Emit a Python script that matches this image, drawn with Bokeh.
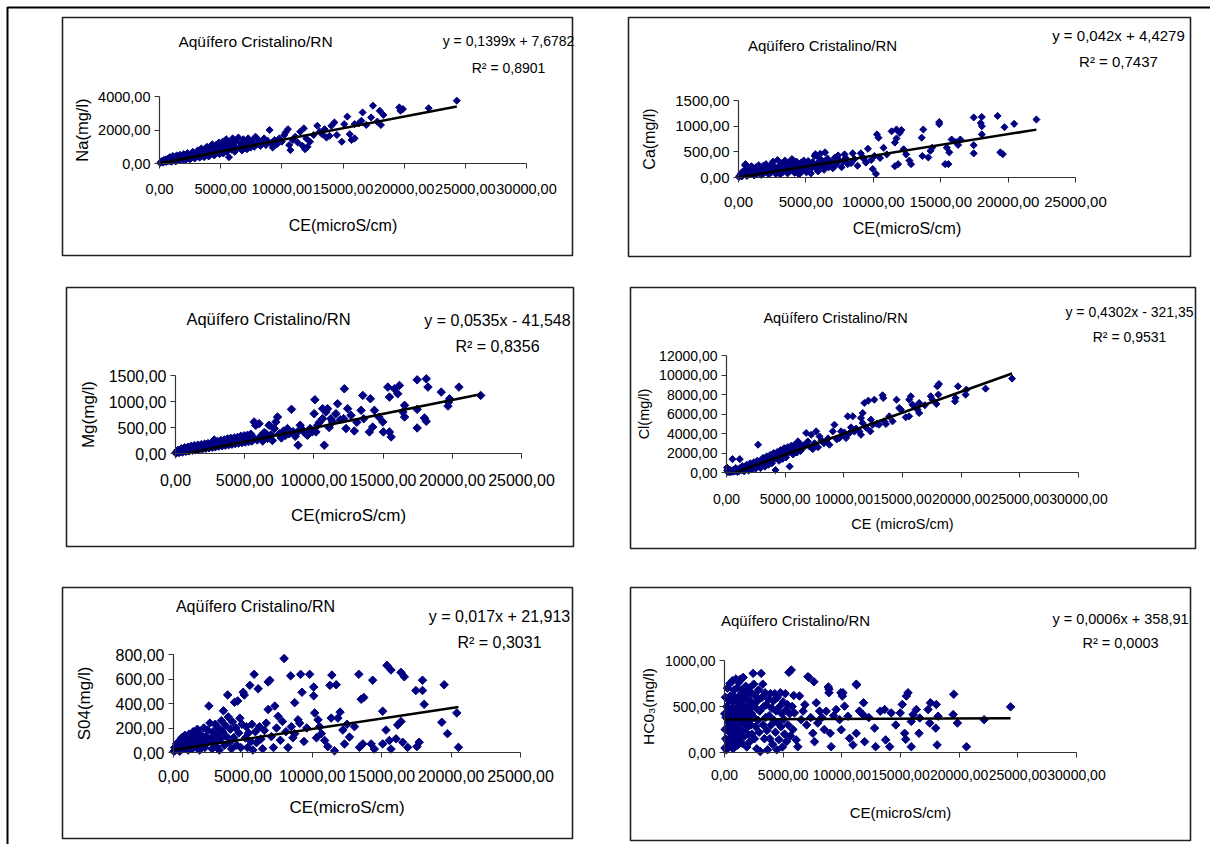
import math
from bokeh.plotting import figure
from bokeh.models import (Range1d, LinearAxis, FixedTicker, CustomJSTickFormatter,
                          BoxAnnotation, Label)
from bokeh.embed import file_html
from bokeh.resources import INLINE

# ---------------- data (CE in microS/cm, ions in mg/l) ----------------
na_pts = [(50,30),(120,80),(200,150),(300,60),(350,200),(420,120),(500,250),(560,90),(640,180),(700,300),
(780,140),(850,380),(900,220),(980,100),(1050,300),(1100,450),(1180,200),(1250,350),(1320,120),(1400,480),
(1450,260),(1520,380),(1600,180),(1680,520),(1750,300),(1820,420),(1900,220),(1980,560),(2050,350),(2120,200),
(2200,480),(2280,620),(2350,300),(2420,420),(2500,250),(2580,560),(2650,380),(2720,700),(2800,460),(2880,300),
(2950,600),(3050,420),(3120,780),(3200,520),(3280,350),(3350,640),(3420,900),(3500,480),(3580,700),(3650,380),
(3720,820),(3800,560),(3880,1000),(3950,650),(4020,420),(4100,760),(4180,950),(4250,560),(4320,1150),(4400,700),
(4480,480),(4550,880),(4620,1100),(4700,640),(4780,820),(4850,1250),(4920,560),(5000,980),(5080,760),(5150,1300),
(5220,600),(5300,1050),(5380,820),(5450,1450),(5520,700),(5600,1150),(5680,380),(5750,950),(5820,1300),(5900,820),
(5980,1500),(6050,1100),(6150,700),(6250,1350),(6350,900),(6450,1550),(6550,1000),(6650,1200),(6750,780),(6850,1450),
(6950,1050),(7050,1300),(7150,850),(7250,1500),(7350,1100),(7450,950),(7550,1350),(7650,1200),(7750,1000),(7850,1600),
(7950,1150),(8100,1400),(8250,1050),(8400,1250),(8550,1500),(8700,1100),(8850,1350),(9000,2000),(9100,1200),(9250,950),
(9400,1400),(9600,1150),(9800,1500),(10000,1300),(10200,1700),(10300,1850),(10500,2050),(10600,1100),(10700,800),(10900,1400),
(11100,1600),(11300,1250),(11500,1900),(11700,1050),(11800,2100),(11900,850),(12000,1500),(12100,1000),(12300,1300),(12600,1700),
(12900,2250),(13100,1900),(13300,1750),(13500,2050),(13650,1550),(13900,1650),(14050,2250),(14300,2450),(14500,1700),(14900,1300),
(15100,2350),(15350,2800),(15550,1750),(15700,1400),(15950,2350),(15950,1500),(16300,2400),(16500,2550),(16600,3050),(16900,2300),
(17300,2750),(17450,3450),(17800,2500),(18000,3150),(18100,2300),(18300,2900),(19600,3350),(19700,3150),(19900,3250),(22000,3300),
(24300,3750)]

ca_pts = [(30,10),(100,40),(180,80),(250,20),(330,120),(400,60),(480,240),(520,260),(560,150),(620,30),
(700,100),(760,180),(830,60),(900,140),(960,220),(1030,90),(1100,170),(1160,40),(1230,130),(1300,200),
(1370,70),(1440,160),(1500,240),(1570,110),(1640,190),(1700,50),(1770,140),(1840,230),(1900,90),(1970,170),
(2040,260),(2100,120),(2170,200),(2240,60),(2300,150),(2370,240),(2440,100),(2500,180),(2570,310),(2640,130),
(2700,210),(2770,70),(2840,170),(2900,340),(2970,120),(3040,220),(3100,60),(3170,170),(3240,280),(3300,110),
(3370,200),(3440,330),(3500,150),(3570,240),(3640,80),(3700,190),(3770,300),(3840,130),(3900,230),(3970,360),
(4040,160),(4100,260),(4170,90),(4240,200),(4300,310),(4370,140),(4440,240),(4500,60),(4570,180),(4640,290),
(4700,120),(4770,220),(4840,330),(4900,160),(4970,260),(5040,100),(5100,200),(5170,320),(5240,150),(5300,250),
(5370,80),(5440,190),(5500,300),(5580,230),(5650,420),(5700,455),(5760,170),(5830,270),(5900,120),(5970,380),
(6060,460),(6150,210),(6250,320),(6350,150),(6420,490),(6500,260),(6600,370),(6700,200),(6800,300),(6900,300),
(7000,180),(7150,390),(7250,250),(7390,430),(7500,330),(7650,200),(7750,310),(7870,450),(7950,380),(8100,260),
(8350,280),(8470,470),(8600,360),(8830,230),(9070,470),(9200,400),(9310,360),(9450,290),(9600,560),(9840,340),
(9960,165),(10080,420),(10200,70),(10270,840),(10390,775),(10500,380),(10760,580),(11000,450),(11360,900),(11600,680),
(11600,220),(11720,935),(11720,760),(11840,260),(11960,870),(12080,925),(12250,550),(12440,450),(12680,330),(12800,260),
(13590,775),(13640,420),(13710,935),(14080,390),(14240,520),(14360,580),(14890,1080),(14890,1040),(15330,260),(15450,580),
(15570,260),(15640,490),(15810,740),(16120,690),(16290,635),(16460,740),(17450,1170),(17450,630),(17450,470),(17970,1060),
(18050,1180),(18050,1000),(18050,840),(19220,1200),(19420,490),(19610,455),(19730,980),(20450,1045),(22100,1130)]

mg_pts = [(30,10),(100,30),(180,60),(260,20),(340,50),(420,90),(500,30),(580,70),(660,110),(740,40),
(820,80),(900,120),(980,50),(1060,100),(1140,140),(1220,60),(1300,110),(1380,150),(1460,70),(1540,120),
(1620,160),(1700,80),(1780,130),(1860,170),(1940,90),(2020,140),(2100,180),(2180,100),(2260,150),(2340,190),
(2420,110),(2500,160),(2580,200),(2660,120),(2740,170),(2800,260),(2880,130),(2960,190),(3040,230),(3120,140),
(3200,200),(3280,250),(3360,150),(3440,210),(3520,260),(3600,160),(3680,220),(3760,280),(3840,170),(3920,230),
(4000,290),(4080,180),(4160,240),(4240,300),(4320,190),(4400,250),(4480,310),(4560,200),(4640,260),(4720,330),
(4800,210),(4880,270),(4960,340),(5040,220),(5120,280),(5200,350),(5280,230),(5360,300),(5440,370),(5520,240),
(5600,310),(5680,606),(5800,543),(5900,260),(6040,574),(6150,330),(6300,240),(6400,400),(6520,383),(6650,290),
(6760,543),(6900,360),(7000,250),(7130,479),(7250,606),(7370,702),(7500,380),(7650,300),(7800,430),(7950,350),
(8090,479),(8200,380),(8380,849),(8500,420),(8650,330),(8820,415),(8860,160),(9010,543),(9200,450),(9400,380),
(9540,351),(9730,479),(9900,420),(10020,766),(10070,1034),(10150,415),(10270,543),(10400,600),(10630,862),(10630,670),
(10750,160),(10870,798),(10990,862),(11100,500),(11230,670),(11350,606),(11590,766),(11710,957),(11900,650),(12150,670),
(12200,1245),(12320,479),(12440,862),(12680,734),(12920,434),(13100,600),(13410,830),(13530,1117),(13600,670),(14010,415),
(14080,1053),(14250,511),(14370,830),(14700,700),(14980,606),(15020,415),(15340,1277),(15460,1085),(15460,415),(15580,319),
(15820,1245),(16060,1149),(16180,1309),(16430,798),(16550,926),(16550,702),(17460,1417),(17460,849),(17460,491),(17990,683),
(18120,1436),(18120,619),(18240,1277),(19200,1181),(19690,913),(19730,990),(19800,1053),(20480,1277),(22050,1117)]

cl_pts = [(40,500),(60,200),(100,50),(150,350),(200,100),(260,20),(320,250),(380,60),(450,150),(510,1370),
(560,80),(620,300),(700,120),(780,450),(850,200),(920,60),(1000,350),(1080,150),(1130,1370),(1200,500),
(1280,250),(1350,650),(1420,380),(1500,120),(1580,600),(1650,300),(1720,800),(1800,450),(1880,200),(1950,700),
(2020,950),(2100,500),(2180,300),(2250,850),(2330,1050),(2400,600),(2480,400),(2550,900),(2620,1200),(2690,2850),
(2750,700),(2820,1100),(2900,450),(2970,1300),(3050,850),(3120,1500),(3200,1000),(3280,600),(3350,1350),(3420,1650),
(3500,1100),(3580,800),(3650,1500),(3720,1800),(3800,1250),(3880,950),(3950,1650),(4020,2000),(4100,1400),(4180,250),
(4250,1800),(4320,2100),(4400,1550),(4480,1200),(4550,1950),(4620,2300),(4700,1700),(4780,1400),(4850,2150),(4920,2500),
(5000,1900),(5080,1550),(5150,2300),(5220,2600),(5300,2050),(5380,620),(5450,2450),(5520,2750),(5600,2200),(5680,1850),
(5750,2600),(5800,2850),(5900,2350),(6000,2050),(6090,3190),(6200,2500),(6300,2200),(6400,2800),(6510,2500),(6650,2850),
(6790,4050),(6930,3190),(7050,2700),(7220,3870),(7350,2400),(7500,3000),(7640,4220),(7800,2600),(7930,3700),(8100,3300),
(8300,3000),(8490,3190),(8650,3500),(8770,2850),(9060,4220),(9200,4900),(9400,3400),(9620,3530),(9760,4220),(9910,3870),
(10050,4100),(10190,3530),(10330,5760),(10450,4000),(10610,4630),(10760,5760),(10900,4200),(11050,4500),(11320,4220),(11460,3870),
(11460,5590),(11610,6100),(11610,5070),(11750,7130),(11900,4600),(12090,7370),(12260,4220),(12310,5420),(12450,4900),(12600,7470),
(12800,5000),(13000,4900),(13300,7920),(13360,7640),(13440,5250),(13590,4970),(13870,5760),(14150,5250),(14490,7470),(14720,6620),
(14860,6450),(15280,5660),(15570,5760),(15570,7470),(15710,7820),(15850,6960),(16100,6700),(16280,6450),(16420,7130),(16420,6100),
(16900,6900),(17410,7820),(17550,7470),(17890,7030),(17970,8840),(18060,7990),(18110,9080),(19470,7300),(19530,7640),(19730,8840),
(20380,7990),(20440,8500),(22080,8600),(24340,9630)]

so4_pts = [(30,10),(80,40),(150,20),(220,70),(300,30),(380,90),(450,10),(520,60),(600,120),(680,30),
(750,80),(820,140),(900,40),(980,100),(1050,20),(1120,150),(1200,60),(1280,110),(1350,30),(1420,170),
(1500,80),(1580,130),(1650,40),(1720,190),(1800,90),(1880,20),(1950,150),(2020,60),(2100,110),(2180,200),
(2250,40),(2330,130),(2400,80),(2480,180),(2550,380),(2620,240),(2700,120),(2780,30),(2850,170),(2920,90),
(3000,230),(3080,50),(3150,140),(3230,200),(3300,20),(3380,110),(3450,260),(3530,170),(3600,340),(3680,60),
(3750,220),(3830,130),(3900,470),(3950,290),(4030,80),(4100,190),(4180,30),(4250,250),(4330,120),(4400,410),
(4480,200),(4550,60),(4620,421),(4700,160),(4780,280),(4850,40),(4930,230),(5020,492),(5100,469),(5180,120),
(5250,210),(5330,40),(5400,160),(5500,548),(5580,90),(5650,230),(5720,20),(5810,638),(5900,170),(5980,80),
(6100,520),(6200,210),(6300,110),(6420,30),(6550,180),(6680,240),(6820,576),(6820,351),(6940,590),(7050,130),
(7200,40),(7300,379),(7420,200),(7540,295),(7700,100),(7850,253),(7970,767),(8100,170),(8250,40),(8440,626),
(8490,211),(8600,120),(8730,407),(8730,154),(8970,267),(9090,239),(9160,638),(9260,492),(9400,90),(9600,200),
(9810,638),(10100,534),(10100,463),(10170,323),(10300,120),(10410,267),(10530,211),(10650,154),(10890,98),(11120,48),
(11270,548),(11360,281),(11410,632),(11600,14),(11720,553),(11840,281),(12000,330),(12200,183),(12320,70),(12500,230),
(12680,126),(13040,211),(13350,638),(13400,42),(13520,435),(13640,70),(13710,449),(14240,70),(14350,590),(14470,28),
(15070,337),(15070,70),(15310,183),(15380,711),(15550,98),(15670,674),(15670,28),(16030,112),(16150,225),(16390,654),
(16390,253),(16510,84),(16630,618),(16870,42),(17460,506),(17540,48),(17700,84),(17940,506),(17940,590),(18060,393),
(19330,247),(19500,553),(19740,154),(20410,323),(20530,42)]

hco3_pts = [(20,420),(40,50),(60,250),(80,600),(100,150),(130,380),(160,30),(190,500),(220,270),(250,700),
(280,120),(310,450),(340,330),(370,60),(400,560),(430,220),(460,750),(490,400),(520,100),(550,620),
(580,300),(610,480),(640,180),(670,780),(700,350),(730,40),(760,550),(790,250),(820,680),(850,420),
(880,130),(910,600),(940,300),(970,800),(1000,480),(1030,200),(1060,700),(1090,380),(1120,80),(1150,560),
(1180,280),(1210,760),(1240,450),(1270,150),(1300,620),(1340,350),(1370,798),(1400,500),(1430,230),(1460,680),
(1490,400),(1520,100),(1550,560),(1590,816),(1620,320),(1650,650),(1680,460),(1710,180),(1740,600),(1780,380),
(1810,720),(1840,260),(1870,500),(1900,60),(1940,640),(1970,420),(2000,200),(2040,580),(2070,340),(2100,700),
(2140,470),(2170,120),(2200,560),(2240,300),(2270,650),(2300,420),(2340,200),(2380,520),(2440,860),(2490,743),
(2520,380),(2560,150),(2600,620),(2650,280),(2700,480),(2750,40),(2800,560),(2850,350),(2900,680),(2950,220),
(3000,450),(3050,10),(3130,860),(3200,600),(3260,743),(3300,300),(3350,500),(3400,150),(3450,650),(3500,380),
(3560,520),(3620,240),(3680,30),(3740,580),(3800,400),(3860,150),(3920,640),(3980,300),(4040,480),(4100,90),
(4160,560),(4220,350),(4280,640),(4340,220),(4400,450),(4460,30),(4520,600),(4580,320),(4640,140),(4700,500),
(4760,650),(4820,280),(4880,420),(4940,60),(5000,550),(5060,360),(5120,200),(5180,640),(5240,460),(5300,120),
(5360,520),(5420,300),(5490,871),(5550,420),(5620,180),(5690,897),(5760,500),(5830,250),(5900,620),(5960,430),
(6110,137),(6250,63),(6390,614),(6530,357),(6700,450),(6850,520),(7000,300),(7110,824),(7180,816),(7350,380),
(7530,209),(7620,769),(7670,118),(7820,540),(7950,320),(8100,450),(8300,380),(8500,250),(8670,449),(8850,713),
(8900,688),(8900,650),(9010,209),(9090,63),(9300,400),(9520,467),(9810,357),(9920,650),(9950,247),(10050,614),
(10090,650),(10230,504),(10520,394),(10660,154),(10950,82),(11230,743),(11230,209),(11260,735),(11500,450),(11800,412),
(11850,540),(11940,118),(12300,380),(12790,265),(12880,63),(13280,449),(13650,467),(13730,137),(14080,63),(14210,430),
(14600,300),(14980,430),(15150,522),(15350,209),(15440,143),(15500,614),(15640,650),(15920,338),(15920,63),(16070,412),
(16350,467),(16580,209),(16640,375),(17350,467),(17490,320),(17550,540),(18000,265),(18050,522),(18120,82),(18200,394),
(19490,412),(19540,633),(19850,320),(20620,63),(22130,357),(24380,496)]

# trendline coefficients shown on the chart
slopes = [0.1399, 0.042, 0.0535, 0.4302, 0.017, 0.0006]
intercepts = [7.6782, 4.4279, -41.548, -321.35, 21.913, 358.91]
eq_texts = ["y = 0,1399x + 7,6782", "y = 0,042x + 4,4279", "y = 0,0535x - 41,548",
            "y = 0,4302x - 321,35", "y = 0,017x + 21,913", "y = 0,0006x + 358,91"]
r2_texts = ["R² = 0,8901", "R² = 0,7437", "R² = 0,8356", "R² = 0,9531", "R² = 0,3031", "R² = 0,0003"]
y_labels = ["Na(mg/l)", "Ca(mg/l)", "Mg(mg/l)", "Cl(mg/l)", "S04(mg/l)", "HC0₃(mg/l)"]
x_labels = ["CE(microS/cm)", "CE(microS/cm)", "CE(microS/cm)", "CE (microS/cm)", "CE(microS/cm)", "CE(microS/cm)"]
title_text = "Aqüífero Cristalino/RN"
ce_ticks_30 = [0, 5000, 10000, 15000, 20000, 25000, 30000]
ce_ticks_25 = [0, 5000, 10000, 15000, 20000, 25000]
y_ticks = [[0, 2000, 4000], [0, 500, 1000, 1500], [0, 500, 1000, 1500],
           [0, 2000, 4000, 6000, 8000, 10000, 12000], [0, 200, 400, 600, 800], [0, 500, 1000]]
x_ticks = [ce_ticks_30, ce_ticks_25, ce_ticks_25, ce_ticks_30, ce_ticks_25, ce_ticks_30]
series = [na_pts, ca_pts, mg_pts, cl_pts, so4_pts, hco3_pts]

# ---------------- layout (page pixels) ----------------
FONT = "Liberation Sans"
NAVY = "#000080"
W, H = 1210, 844

# box: (left, top, right, bottom); ox/oy: axis origin px; wx/hy: axis length px
layout = [
    dict(box=(62, 17, 572, 255), ox=159, oy=163, wx=367, hy=67, title=(255, 41, 15.5),
         eq=(508, 40, 67, 14), tick=14.5, sx=15, sy=4, xl=(16, 20), yl=(16.5, 4), ms=5),
    dict(box=(628, 17, 1190, 256), ox=738, oy=177, wx=337, hy=77, title=(822, 45, 15),
         eq=(1118, 35, 61, 15), tick=15, sx=14, sy=4, xl=(16, 10), yl=(16, 14), ms=5),
    dict(box=(66, 287, 573, 546), ox=175, oy=453, wx=346, hy=78, title=(268, 318, 16.5),
         eq=(497, 320, 346, 16), tick=16, sx=15, sy=4, xl=(17, 17), yl=(17, 8), ms=6),
    dict(box=(630, 287, 1195, 548), ox=726, oy=472, wx=352, hy=117, title=(835, 317, 14.5),
         eq=(1129, 311, 336, 14), tick=14, sx=16, sy=4, xl=(14.5, 9), yl=(14.5, 4), ms=5),
    dict(box=(62, 587, 572, 838), ox=173, oy=752, wx=347, hy=98, title=(255, 606, 16),
         eq=(499, 616, 642, 16), tick=16, sx=12, sy=4, xl=(17, 13), yl=(17, 19), ms=6),
    dict(box=(630, 587, 1190, 840), ox=724, oy=752, wx=352, hy=92, title=(795, 620, 15),
         eq=(1120, 618, 642, 14.5), tick=14, sx=12, sy=4, xl=(15, 21), yl=(15.5, 5), ms=6),
]

p = figure(width=W, height=H, output_backend="svg", toolbar_location=None,
           x_range=Range1d(0, W), y_range=Range1d(H, 0),
           x_axis_type=None, y_axis_type=None, min_border=0)
p.outline_line_color = None
p.background_fill_color = "white"
p.border_fill_color = "white"

# outer frame: only its top and left edges fall inside the page
p.add_layout(BoxAnnotation(left=7, top=7, right=W + 20, bottom=H + 20, fill_color=None,
                           line_color="black", line_alpha=1, line_width=2))

fmt = CustomJSTickFormatter(code="return tick.toFixed(2).replace('.', ',');")

for i, (pts, L) in enumerate(zip(series, layout)):
    xmax = x_ticks[i][-1]
    ymax = y_ticks[i][-1]
    xn, yn = f"x{i}", f"y{i}"
    ox, oy, wx, hy = L["ox"], L["oy"], L["wx"], L["hy"]
    p.extra_x_ranges[xn] = Range1d((0 - ox) / wx * xmax, (W - ox) / wx * xmax)
    p.extra_y_ranges[yn] = Range1d((oy - H) / hy * ymax, (oy - 0) / hy * ymax)

    bl, bt, br, bb = L["box"]
    p.add_layout(BoxAnnotation(left=bl, right=br, top=bt, bottom=bb, fill_color=None,
                               line_color="#222222", line_alpha=1, line_width=1.6))

    xa = LinearAxis(x_range_name=xn, y_range_name=yn, fixed_location=0, bounds=(0, xmax),
                    ticker=FixedTicker(ticks=x_ticks[i]), formatter=fmt,
                    axis_label=x_labels[i])
    ya = LinearAxis(x_range_name=xn, y_range_name=yn, fixed_location=0, bounds=(0, ymax),
                    ticker=FixedTicker(ticks=y_ticks[i]), formatter=fmt,
                    axis_label=y_labels[i])
    for ax, st, (lf, ls) in ((xa, L["sx"], L["xl"]), (ya, L["sy"], L["yl"])):
        ax.axis_line_color = "#333333"
        ax.axis_line_width = 1.2
        ax.major_tick_line_color = "#333333"
        ax.major_tick_out = 5
        ax.major_tick_in = 0
        ax.minor_tick_out = 0
        ax.minor_tick_in = 0
        ax.major_label_text_font = FONT
        ax.major_label_text_font_size = f"{L['tick']}px"
        ax.major_label_text_color = "black"
        ax.major_label_standoff = st
        ax.axis_label_text_font = FONT
        ax.axis_label_text_font_style = "normal"
        ax.axis_label_text_font_size = f"{lf}px"
        ax.axis_label_text_color = "black"
        ax.axis_label_standoff = ls
    p.add_layout(xa, "below")
    p.add_layout(ya, "left")

    xs = [q[0] for q in pts]
    ys = [q[1] for q in pts]
    p.scatter(xs, ys, marker="square", angle=math.pi / 4, size=L["ms"],
              fill_color=NAVY, line_color=NAVY, line_width=1,
              x_range_name=xn, y_range_name=yn)

    a, b = slopes[i], intercepts[i]
    x0, x1 = min(xs), max(xs)
    if a * x0 + b < 0:
        x0 = -b / a
    p.line([x0, x1], [a * x0 + b, a * x1 + b], line_color="black", line_width=2.5,
           x_range_name=xn, y_range_name=yn)

    tx, ty, tf = L["title"]
    p.add_layout(Label(x=tx, y=ty, text=title_text, text_align="center", text_baseline="middle",
                       text_font=FONT, text_font_size=f"{tf}px", text_color="black"))
    ex, ey, ry, ef = L["eq"]
    p.add_layout(Label(x=ex, y=ey, text=eq_texts[i], text_align="center", text_baseline="middle",
                       text_font=FONT, text_font_size=f"{ef}px", text_color="black"))
    p.add_layout(Label(x=ex, y=ry, text=r2_texts[i], text_align="center", text_baseline="middle",
                       text_font=FONT, text_font_size=f"{ef}px", text_color="black"))

open("out.html", "w").write(file_html(p, INLINE))
